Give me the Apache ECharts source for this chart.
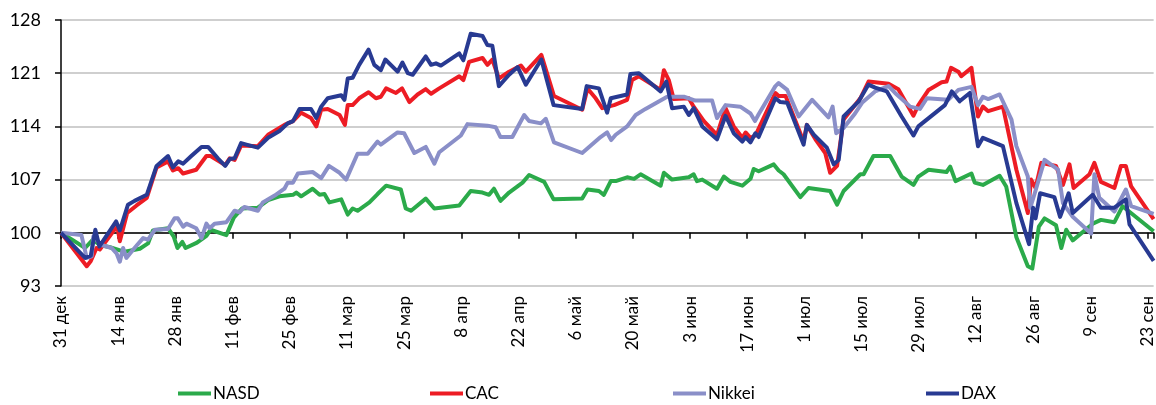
<!DOCTYPE html>
<html><head><meta charset="utf-8">
<script src="https://cdn.jsdelivr.net/npm/echarts@6/dist/echarts.min.js"></script>
<style>html,body{margin:0;padding:0;background:#fff}#c{width:1156px;height:405px}</style>
</head><body><div id="c"></div>
<script>
// x = calendar days since 31 Dec
const tickLabels = ['31 дек','14 янв','28 янв','11 фев','25 фев','11 мар','25 мар','8 апр','22 апр','6 май','20 май','3 июн','17 июн','1 июл','15 июл','29 июл','12 авг','26 авг','9 сен','23 сен'];
const seriesNames = ['NASD','CAC','Nikkei','DAX'];

const nasdDays = [0,3,5.9,7.8,9.5,12,15.6,19.3,21.3,22.5,26.2,27.6,28.5,29.7,30.5,33.3,35.6,36.6,40.5,42.3,44.3,48.2,50.7,53.5,56.8,57.6,58.8,61.6,63.3,64.5,65.7,68.6,70.2,71.4,72.6,75.5,77.5,79.6,83.2,84.4,85.7,89.3,91.4,97.5,100.3,103.2,104.8,106,107.6,109.7,113,114.6,118.3,120.6,127.6,128.9,131.7,132.9,134.6,135.8,138.6,140.3,141.9,146.8,147.6,149.6,153.7,154.9,155.7,157,160.6,162.3,163.9,166.8,168.8,169.6,170.8,174.5,175.7,176.9,181,183,188.3,190,191.6,195.7,196.5,198.9,203,205.8,208.7,209.9,212.4,216.8,217.7,219,222.9,223.7,225.7,229.8,231.4,233.9,236.7,237.8,239.4,240.8,243.6,244.9,246.1,247.7,252.6,254.6,257.9,259.9,267.5];
const nasdValues = [100,99.0,98.0,99.1,98.4,98.1,97.5,97.9,98.6,100.3,100.6,99.5,98.0,98.8,98.0,98.7,99.6,100.4,99.7,102.0,103.2,103.3,104.3,104.8,105.0,105.3,104.8,105.8,105.0,105.1,104.0,104.4,102.4,103.2,102.9,104.0,105.1,106.2,105.7,103.2,102.9,104.5,103.2,103.6,105.5,105.3,105.0,105.8,104.2,105.3,106.6,107.6,106.7,104.4,104.5,105.7,105.5,105.0,106.8,106.8,107.3,107.1,107.7,106.2,107.9,107.0,107.3,107.7,106.8,107.0,105.8,107.4,106.7,106.2,107.1,108.4,108.1,109.0,108.2,107.7,104.7,105.9,105.5,103.7,105.5,107.7,107.7,110.1,110.1,107.4,106.3,107.4,108.3,108.0,108.7,106.8,107.8,106.6,106.3,107.5,106.1,99.4,95.6,95.3,100.8,101.9,101.0,98.0,100.4,99.0,101.2,101.7,101.4,103.5,100.2];

const cacDays = [0,6.3,7.3,8.7,9.5,12.8,13.8,14.4,16.2,18.5,21,23.4,26.2,27.4,28.7,29.9,33.1,35.6,36.6,40.2,41.3,42.5,44.1,48.2,50.7,54.7,56.8,58.8,61.2,62.5,63.7,65.3,68.2,69.5,70.2,71.4,73,75.3,77.1,78.3,79.6,82,83.5,85.3,87.3,89.3,90.6,92.6,97.5,98.5,99.9,103.2,104.4,105.6,107.2,109.7,112.6,113.8,117.6,120.7,127.6,128.9,130.9,132.5,135.4,138.6,139.8,141.5,146.8,147.6,148.8,150,153.7,154.9,157.4,160.6,162.7,164.7,166.8,167.6,168.8,170,174.9,175.7,177.4,181.8,182.6,184.7,187.1,188.3,190,191.6,195.7,197.7,202.6,205,208.7,209.9,212.4,215.6,216.8,217.9,219.7,220.4,222.9,224.5,225.7,227,230.6,233.9,236.7,237.5,238.6,240,243.6,245.3,246.9,247.9,251.8,253,254.6,257.9,259.5,260.7,262,267.5];
const cacValues = [100,95.6,96.3,98.0,97.8,100.2,100.8,98.9,102.6,103.6,104.6,108.6,109.4,108.2,108.5,107.8,108.3,110.1,110.1,108.9,109.8,109.6,111.5,111.4,112.9,114.2,114.7,115.8,115.1,114.0,116.2,116.3,115.5,114.2,116.8,116.8,117.7,118.5,117.7,117.9,119.0,118.4,119.0,117.2,118.2,118.9,118.3,119.0,120.6,120.1,122.5,123.0,122.1,122.8,120.3,121.2,122.0,121.2,123.4,118.0,116.2,119.0,117.7,116.4,116.8,117.5,120.1,120.6,118.8,121.4,120.1,117.6,117.7,116.6,114.7,112.9,116.4,114.0,112.5,113.2,112.5,112.8,118.4,118.0,118.0,112.0,114.2,112.3,110.5,107.9,108.8,114.9,117.7,119.9,119.6,118.9,115.4,116.8,118.8,119.8,119.9,121.7,121.2,120.6,121.7,115.3,116.6,116.0,116.6,108.3,102.6,107.0,105.9,109.2,108.8,106.3,109.0,105.9,107.7,109.2,106.7,105.9,108.8,108.8,106.1,101.8];

const nikkeiDays = [0,5,6.3,7.5,7.9,9.9,12.4,13.6,14.4,15.2,16,18,20.1,21.3,23,26.2,27.8,28.6,29.9,30.7,33.1,34.4,35.6,36.4,37.6,40.5,42.5,43.7,44.9,48.2,49.4,52.3,54.7,55.5,56.8,58,61.6,63.7,65.6,68.2,69.8,72.6,75.1,77.5,78.3,82.4,84,86.5,89.3,91.4,92.6,97.9,99.5,104.4,106.4,107.6,110.5,113.4,114.6,117.5,118.7,120.7,127.6,132.1,133.7,134.7,135.8,138.6,140.7,143.1,148.4,152.5,155.3,159.4,160.6,162.7,166.3,168.8,169.9,170.8,174.9,175.7,177.8,180.6,183.9,187.9,188.9,189.8,191.6,194.4,196.1,199.3,202.6,204.2,207.9,210.3,212,217.2,219.7,222.9,224.5,225.7,227,229.8,232.7,233.9,236.7,237.3,238.4,240.8,244.1,245.3,247.7,252.2,253,254.2,257.9,260.7,262,267.5];
const nikkeiValues = [100,99.7,96.7,96.9,99.5,98.4,98.0,97.3,96.2,98.0,96.7,98.0,99.3,99.1,100.4,100.5,101.9,101.9,100.8,101.2,100.6,99.3,101.2,100.6,101.2,101.4,102.9,102.7,103.4,102.9,104.0,104.9,105.8,106.6,106.6,107.8,108.0,107.2,108.8,107.9,107.0,110.4,110.4,112.0,111.6,113.2,113.1,110.5,111.3,109.1,110.6,112.8,114.3,114.1,113.9,112.6,112.6,115.5,114.7,114.4,115.0,111.9,110.5,112.6,113.2,112.2,112.9,114.0,115.5,116.3,117.9,117.9,117.4,117.4,115.1,116.8,116.6,115.7,114.7,115.6,119.3,119.7,118.8,115.3,117.5,115.2,116.6,113.1,113.8,115.7,117.1,118.6,119.3,118.4,116.6,116.3,117.7,117.5,118.8,119.2,116.8,117.9,117.6,118.2,114.9,111.4,107.4,103.3,105.2,109.6,108.3,103.9,102.1,99.9,107.7,104.6,102.8,105.7,103.5,102.5];

const daxDays = [0,5.9,7.3,8.4,9.4,13.5,14.4,16.4,18,21,23.4,26.2,27.4,28.7,29.9,31.9,34.4,36,38.4,40.2,41.3,42.5,44.1,45.4,48.2,50.7,53.5,55.5,56.8,58.4,61.2,62.5,63.7,65.3,68.6,69.4,70.2,71.4,73,75.3,76.7,78.3,79.4,82.4,83.6,84.9,86.1,89.3,90.6,91.8,93,97.5,98.5,100.3,103.2,104.4,105.6,107.2,109.7,111.8,113.8,117.6,120.6,127.6,128.7,131.7,133.7,134.6,138.6,139.4,141.5,146.8,148.2,149.6,152.5,153.7,154.9,157,160.6,162.7,164.7,166.8,167.6,168.8,170,170.8,174.9,176.1,177.8,181.8,182.6,184.3,187.5,189.2,190.4,191.6,195.3,197.7,199.3,202.2,205.8,208.7,209.9,216.4,218.1,220,222.5,224.5,225.7,230.6,233.9,237,238,238.6,239.7,243.2,244.6,246.7,247.7,252.6,254.6,257.9,260.7,261.6,267.5];
const daxValues = [100,96.7,97.0,100.4,98.2,101.5,100.3,103.7,104.2,105.0,108.8,110.1,108.6,109.4,109.1,110.1,111.3,111.3,109.8,108.8,109.7,109.8,111.8,111.6,111.2,112.5,113.4,114.4,114.7,116.3,116.3,115.1,116.6,117.7,118.1,117.5,120.3,120.4,122.1,124.1,122.1,121.4,122.8,121.2,122.4,121.0,120.8,123.2,122.1,122.3,122.0,123.6,122.7,126.2,125.9,124.7,124.6,119.3,120.8,121.8,119.5,122.8,116.8,116.3,119.3,119.0,115.8,117.7,118.2,120.9,121.0,118.6,119.9,116.4,116.6,115.5,116.4,114.0,112.3,115.4,113.1,112.0,112.6,111.9,113.1,112.6,117.7,117.2,117.1,111.6,114.2,112.9,111.2,109.0,109.6,115.3,117.3,119.5,119.1,118.6,115.3,112.8,114.0,116.8,118.6,117.3,118.4,111.4,112.5,111.4,103.9,98.5,103.3,101.9,105.2,104.7,102.1,105.2,102.6,105.0,103.3,103.3,104.4,101.1,96.3];

const colors = ['#2BAA4A','#ED1C24','#8A8FC8','#283A92'];
const zip = (d, v) => d.map((x, i) => [x, v[i]]);
const allData = [zip(nasdDays, nasdValues), zip(cacDays, cacValues), zip(nikkeiDays, nikkeiValues), zip(daxDays, daxValues)];

const FONT = 'Lato';
const chart = echarts.init(document.getElementById('c'), null, {renderer: 'canvas'});
const legendLeft = [178, 430, 673, 926];
chart.setOption({
  animation: false,
  textStyle: {fontFamily: FONT},
  grid: {left: 61, right: 0, top: 20, bottom: 119, containLabel: false},
  legend: seriesNames.map((n, i) => ({
    data: [n], left: legendLeft[i], top: 385, padding: 0, icon: 'rect', itemWidth: 33, itemHeight: 4, itemGap: 0,
    textStyle: {fontFamily: FONT, fontSize: 17, color: '#000', padding: [0, 0, 0, -3]}
  })),
  xAxis: [{
    type: 'value', min: 0, max: 267.5, interval: 14, position: 'bottom', offset: -53.2,
    axisLine: {show: true, lineStyle: {color: '#000', width: 1.5}},
    axisTick: {show: true, length: 6, lineStyle: {color: '#000', width: 1.5}},
    axisLabel: {show: false}, splitLine: {show: false}
  }, {
    type: 'value', min: 0, max: 267.5, interval: 14, position: 'bottom',
    axisLine: {show: false}, axisTick: {show: false}, splitLine: {show: false},
    axisLabel: {show: true, rotate: 90, margin: 10, fontSize: 17, color: '#000', fontFamily: FONT,
      showMaxLabel: false,
      formatter: v => (Math.abs(v / 14 - Math.round(v / 14)) < 1e-6 ? (tickLabels[Math.round(v / 14)] || '') : '')}
  }],
  yAxis: {
    type: 'value', min: 93, max: 128, interval: 7,
    axisLine: {show: true, lineStyle: {color: '#000', width: 1.5}},
    axisTick: {show: true, length: 6, lineStyle: {color: '#000', width: 1.5}},
    axisLabel: {fontSize: 18, color: '#000', margin: 20, fontFamily: FONT},
    splitLine: {show: true, lineStyle: {color: '#BFBFBF', width: 1.5}}
  },
  series: seriesNames.map((n, i) => ({
    name: n, type: 'line', xAxisIndex: 0, data: allData[i], showSymbol: false, symbol: 'none',
    smooth: false, color: colors[i], lineStyle: {width: 4, color: colors[i], join: 'round'}, z: 2 + i
  }))
});
</script></body></html>
